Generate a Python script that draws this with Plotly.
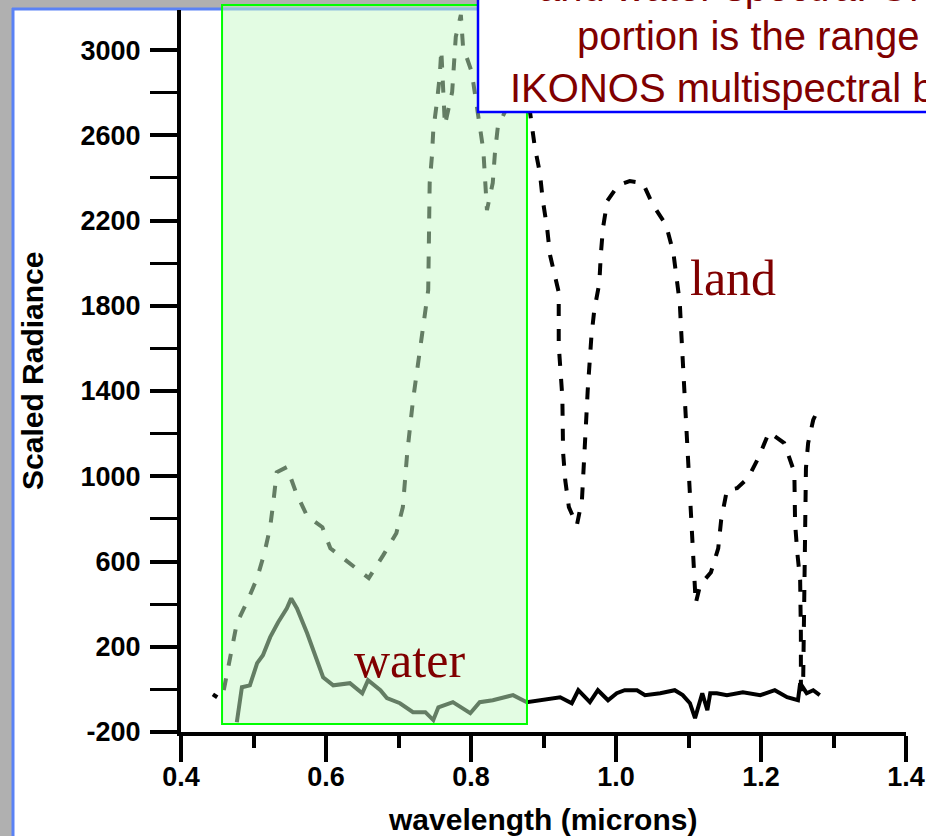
import plotly.graph_objects as go

# ---------------- data ----------------
land_x = [0.459, 0.470, 0.477, 0.492, 0.505, 0.515, 0.523, 0.528, 0.532, 0.546,
          0.559, 0.574, 0.595, 0.606, 0.636, 0.659, 0.679, 0.697, 0.706, 0.712,
          0.720, 0.741, 0.742, 0.743, 0.746, 0.748, 0.753, 0.757, 0.759, 0.764,
          0.774, 0.779, 0.786, 0.789, 0.801, 0.817, 0.822, 0.830, 0.833, 0.837,
          0.861, 0.881, 0.888, 0.895, 0.899, 0.905, 0.909, 0.915, 0.921, 0.921,
          0.926, 0.927, 0.930, 0.935, 0.946, 0.953, 0.956, 0.959, 0.961, 0.966,
          0.970, 0.977, 0.979, 0.982, 0.988, 1.003, 1.019, 1.037, 1.051, 1.069,
          1.079, 1.083, 1.088, 1.090, 1.092, 1.094, 1.097, 1.101, 1.105, 1.108,
          1.110, 1.116, 1.131, 1.141, 1.145, 1.153, 1.167, 1.182, 1.197, 1.211,
          1.232, 1.246, 1.247, 1.250, 1.254, 1.255, 1.255, 1.258, 1.261, 1.262,
          1.262, 1.265, 1.272, 1.277]
land_y = [-4, 193, 310, 418, 522, 639, 761, 897, 1019, 1043,
          921, 813, 761, 662, 583, 522, 630, 733, 855, 1109,
          1357, 1874, 2123, 2376, 2498, 2625, 2756, 2883, 3001, 2648,
          2803, 3062, 3165, 3015, 2897, 2530, 2249, 2376, 2517, 2639,
          2813, 2719, 2545, 2423, 2296, 2164, 2038, 1944, 1864, 1615,
          1371, 1113, 981, 855, 770, 888, 1137, 1273, 1404, 1653,
          1779, 1906, 2038, 2164, 2292, 2366, 2385, 2376, 2273, 2179,
          2052, 1930, 1812, 1676, 1545, 1418, 1170, 911, 662, 526,
          404, 489, 550, 662, 794, 935, 944, 991, 1090, 1207,
          1156, 1019, 780, 644, 512, 263, 9, -5, 644, 902,
          1038, 1156, 1264, 1301]

water_x = [0.444, 0.450, None, 0.477, 0.481, 0.484, 0.495, 0.505, 0.513, 0.523,
           0.534, 0.546, 0.552, 0.560, 0.574, 0.588, 0.596, 0.610, 0.633, 0.650,
           0.658, 0.675, 0.684, 0.702, 0.720, 0.737, 0.748, 0.755, 0.775, 0.799,
           0.812, 0.830, 0.858, 0.877, 0.895, 0.923, 0.939, 0.948, 0.964, 0.975,
           0.989, 1.001, 1.012, 1.029, 1.040, 1.061, 1.081, 1.092, 1.102, 1.109,
           1.119, 1.126, 1.130, 1.139, 1.153, 1.175, 1.199, 1.219, 1.236, 1.251,
           1.254, 1.263, 1.272, 1.281]
water_y = [-23, -37, None, -154, -51, 10, 19, 123, 160, 245,
           315, 380, 427, 380, 263, 123, 57, 19, 29, -18,
           43, -4, -41, -65, -107, -107, -144, -84, -60, -112,
           -60, -51, -27, -60, -51, -37, -65, -4, -60, -4,
           -51, -18, -4, -4, -27, -18, -4, -27, -65, -135,
           -18, -98, -18, -18, -27, -14, -27, -4, -37, -51,
           29, -18, -4, -27]

x_tick_vals = [0.4, 0.6, 0.8, 1.0, 1.2, 1.4]
x_tick_text = ["0.4", "0.6", "0.8", "1.0", "1.2", "1.4"]
y_tick_vals = [-200, 200, 600, 1000, 1400, 1800, 2200, 2600, 3000]
y_tick_text = ["-200", "200", "600", "1000", "1400", "1800", "2200", "2600", "3000"]

x_title = "wavelength (microns)"
y_title = "Scaled Radiance"
box_lines = ["and water spectra. Green", "portion is the range of", "IKONOS multispectral bands"]
band_range = [0.4566, 0.8772]

# ---------------- layout geometry ----------------
W, H = 926, 836
ML, MR, MT, MB = 181, 20, 10, 104
PW, PH = W - ML - MR, H - MT - MB


def xp(px):
    return (px - ML) / PW


def yp(py):
    return (H - MB - py) / PH


TICK_FONT = dict(family="Liberation Sans Narrow, Liberation Sans, Arial",
                 size=27, color="black", weight="bold")
TITLE_FONT = dict(family="Liberation Sans, Arial", size=30, color="black", weight="bold")
RED = "#800000"

fig = go.Figure()
fig.add_trace(go.Scatter(x=land_x, y=land_y, mode="lines",
                         line=dict(color="black", width=4, dash="12px,13px"),
                         showlegend=False, hoverinfo="skip"))
fig.add_trace(go.Scatter(x=water_x, y=water_y, mode="lines",
                         line=dict(color="black", width=4),
                         showlegend=False, hoverinfo="skip", connectgaps=False))

shapes = [
    # gray surround + blue frame
    dict(type="rect", xref="paper", yref="paper", x0=xp(-5), x1=xp(12), y0=yp(H + 5), y1=yp(-5),
         fillcolor="#b0b0b0", line=dict(width=0), layer="below"),
    dict(type="rect", xref="paper", yref="paper", x0=xp(-5), x1=xp(W + 5), y0=yp(8), y1=yp(-5),
         fillcolor="#b0b0b0", line=dict(width=0), layer="below"),
    dict(type="line", xref="paper", yref="paper", x0=xp(13), x1=xp(13), y0=yp(H + 5), y1=yp(8),
         line=dict(color="#5a82f5", width=3), layer="below"),
    dict(type="line", xref="paper", yref="paper", x0=xp(12), x1=xp(W + 5), y0=yp(9), y1=yp(9),
         line=dict(color="#5a82f5", width=3), layer="below"),
    # green band (semi-transparent, over the curves)
    dict(type="rect", xref="x", yref="paper", x0=band_range[0], x1=band_range[1],
         y0=yp(724), y1=yp(5),
         fillcolor="rgba(200,250,200,0.5)", line=dict(color="#00ff00", width=2), layer="above"),
    # caption box
    dict(type="rect", xref="paper", yref="paper", x0=xp(478), x1=xp(W + 20), y0=yp(112), y1=yp(-20),
         fillcolor="white", line=dict(color="#0000ff", width=2.5), layer="above"),
]

annotations = [
    dict(text="land", xref="paper", yref="paper", x=xp(688), y=yp(278), xanchor="left", yanchor="middle",
         showarrow=False, font=dict(family="Liberation Serif, Times New Roman", size=50, color=RED)),
    dict(text="water", xref="paper", yref="paper", x=xp(352), y=yp(660), xanchor="left", yanchor="middle",
         showarrow=False, font=dict(family="Liberation Serif, Times New Roman", size=50, color=RED)),
    dict(text=y_title, xref="paper", yref="paper", x=xp(32), y=yp(371), textangle=-90,
         xanchor="center", yanchor="middle", showarrow=False, font=TITLE_FONT),
    dict(text=x_title, xref="paper", yref="paper", x=xp(542), y=yp(819),
         xanchor="center", yanchor="middle", showarrow=False, font=TITLE_FONT),
]
box_pos = [(536, -13), (575, 36), (508, 88)]
for txt, (bx, by) in zip(box_lines, box_pos):
    annotations.append(dict(text=txt, xref="paper", yref="paper", x=xp(bx), y=yp(by),
                            xanchor="left", yanchor="middle", showarrow=False,
                            font=dict(family="Liberation Sans, Arial", size=40, color=RED)))

fig.update_layout(
    width=W, height=H, autosize=False,
    margin=dict(l=ML, r=MR, t=MT, b=MB, pad=0, autoexpand=False),
    paper_bgcolor="white", plot_bgcolor="white",
    showlegend=False,
    shapes=shapes, annotations=annotations,
    xaxis=dict(range=[0.4, 1.4], tickvals=x_tick_vals, ticktext=x_tick_text, automargin=False,
               showgrid=False, zeroline=False, showline=True, linecolor="black", linewidth=4,
               ticks="outside", ticklen=26, tickwidth=4, tickcolor="black",
               minor=dict(dtick=0.1, tick0=0.4, ticks="outside", ticklen=12, tickwidth=4, tickcolor="black"),
               tickfont=TICK_FONT, ticklabelstandoff=-8),
    yaxis=dict(range=[-200, 3188], tickvals=y_tick_vals, ticktext=y_tick_text, automargin=False,
               showgrid=False, zeroline=False, showline=True, linecolor="black", linewidth=4,
               ticks="outside", ticklen=27, tickwidth=4, tickcolor="black",
               minor=dict(dtick=200, tick0=-200, ticks="outside", ticklen=27, tickwidth=3, tickcolor="black"),
               tickfont=TICK_FONT, ticklabelstandoff=4),
)

fig.write_html("out.html", config={"displayModeBar": False},
               post_script="document.body.style.margin='0';")
